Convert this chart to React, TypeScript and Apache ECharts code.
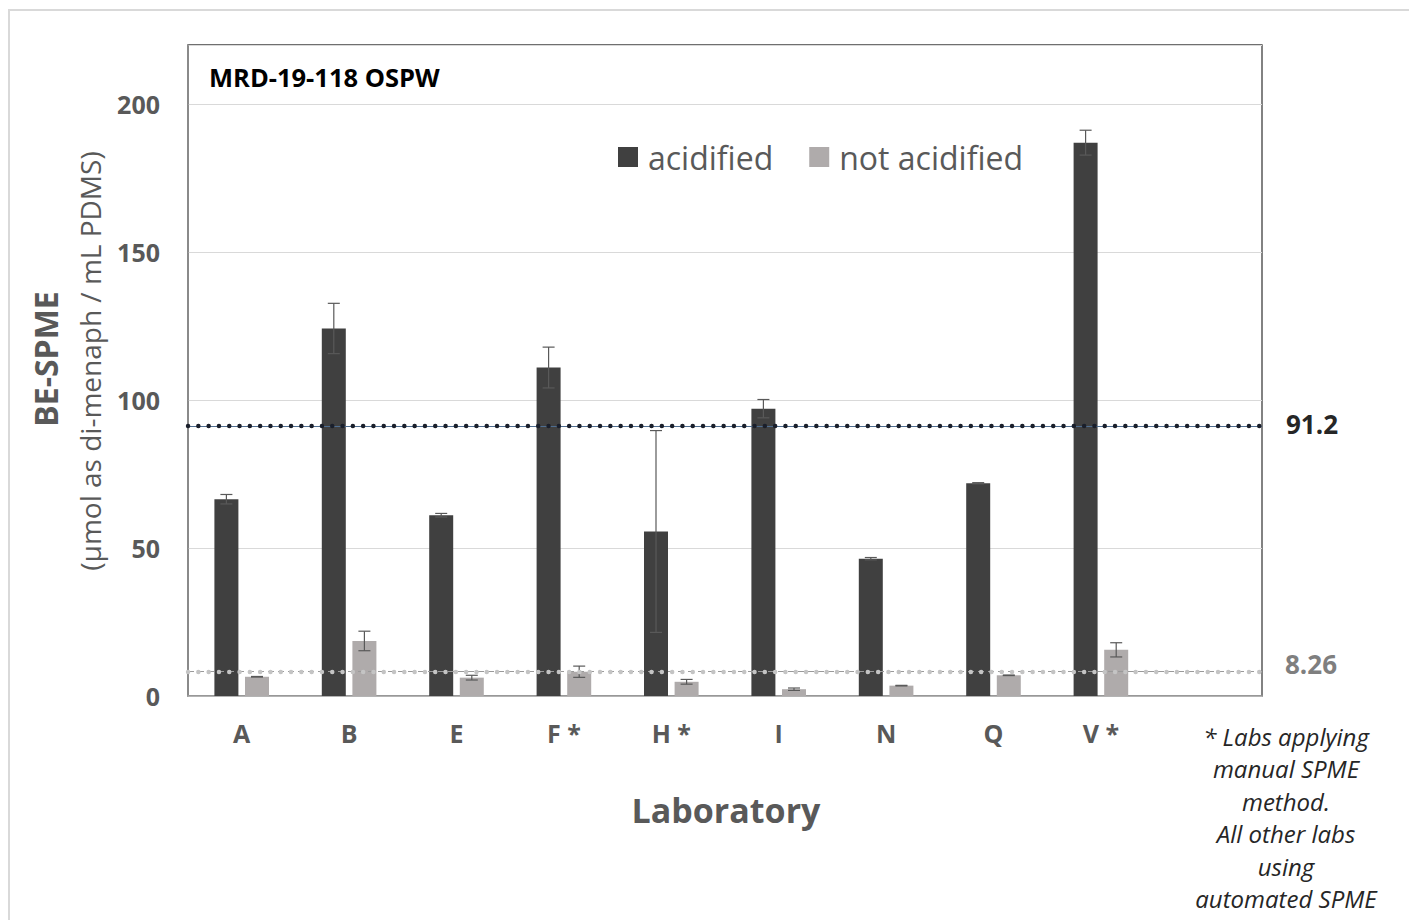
import React, { useEffect, useRef } from "react";
import * as echarts from "echarts";

const categories = ["A", "B", "E", "F *", "H *", "I", "N", "Q", "V *", ""];
const acidified = [66.5, 124.2, 61.1, 111.0, 55.6, 97.1, 46.4, 71.9, 187.0];
const acidifiedErr = [1.6, 8.5, 0.6, 6.9, 34.1, 3.1, 0.4, 0.2, 4.2];
const notAcidified = [6.5, 18.6, 6.2, 8.2, 4.8, 2.3, 3.5, 7.0, 15.6];
const notAcidifiedErr = [0.1, 3.3, 0.8, 1.9, 0.8, 0.4, 0.1, 0.1, 2.4];
const refHigh = 91.2;
const refLow = 8.26;
const noteLines = ["* Labs applying", "manual SPME", "method.", "All other labs", "using", "automated SPME"];

const FONT = "'Open Sans', 'DejaVu Sans', sans-serif";
const DARK = "#404040";
const LIGHT = "#afabab";
const BAR_W = 24;
const BAR_GAP_PX = 6.6;
const OFFSET = (BAR_W + BAR_GAP_PX) / 2;

function errRender(offset: number) {
  return (params: any, api: any) => {
    const i = api.value(0);
    const v = api.value(1);
    const e = api.value(2);
    const hi = api.coord([i, v + e]);
    const lo = api.coord([i, v - e]);
    const x = hi[0] + offset;
    const cap = 6;
    const style = { stroke: "#595959", lineWidth: 1.2 };
    return {
      type: "group",
      children: [
        { type: "line", shape: { x1: x, y1: hi[1], x2: x, y2: lo[1] }, style },
        { type: "line", shape: { x1: x - cap, y1: hi[1], x2: x + cap, y2: hi[1] }, style },
        { type: "line", shape: { x1: x - cap, y1: lo[1], x2: x + cap, y2: lo[1] }, style },
      ],
    };
  };
}

export default function App() {
  const ref = useRef<HTMLDivElement>(null);
  useEffect(() => {
    if (!ref.current) return;
    const chart = echarts.init(ref.current, null, { renderer: "svg" });
    chart.setOption({
      animation: false,
      backgroundColor: "#ffffff",
      grid: {
        left: 188,
        right: 147,
        top: 45,
        bottom: 224,
        show: true,
        borderColor: "#404040",
        borderWidth: 1.3,
        containLabel: false,
      },
      legend: {
        data: ["acidified", "not acidified"],
        left: 618,
        top: 141,
        padding: 0,
        icon: "rect",
        itemWidth: 20,
        itemHeight: 20,
        itemGap: 36,
        textStyle: {
          fontFamily: FONT,
          fontSize: 32,
          color: "#595959",
          lineHeight: 32,
          padding: [0, 0, 0, 5],
        },
      },
      xAxis: {
        type: "category",
        data: categories,
        axisLine: { show: true, lineStyle: { color: "#a6a6a6", width: 1.5 } },
        axisTick: { show: false },
        axisLabel: {
          fontFamily: FONT,
          fontSize: 25,
          fontWeight: "bold",
          color: "#595959",
          margin: 22,
          lineHeight: 30,
          interval: 0,
        },
      },
      yAxis: {
        type: "value",
        min: 0,
        max: 220,
        interval: 50,
        axisLine: { show: true, lineStyle: { color: "#8c8c8c", width: 1.5 } },
        axisTick: { show: false },
        splitLine: { show: true, lineStyle: { color: "#d9d9d9", width: 1 } },
        axisLabel: {
          fontFamily: FONT,
          fontSize: 25,
          fontWeight: "bold",
          color: "#595959",
          margin: 28,
          showMaxLabel: false,
          formatter: (v: number) => (v > 200 ? "" : String(v)),
        },
      },
      series: [
        {
          name: "acidified",
          type: "bar",
          data: acidified,
          barWidth: BAR_W,
          barGap: (BAR_GAP_PX / BAR_W) * 100 + "%",
          itemStyle: { color: DARK },
          z: 2,
        },
        {
          name: "not acidified",
          type: "bar",
          data: notAcidified,
          barWidth: BAR_W,
          itemStyle: { color: LIGHT },
          z: 2,
        },
        {
          name: "acidErr",
          type: "custom",
          data: acidified.map((v, i) => [i, v, acidifiedErr[i]]),
          encode: { x: 0, y: 1 },
          renderItem: errRender(-OFFSET),
          z: 3,
          silent: true,
        },
        {
          name: "notAcidErr",
          type: "custom",
          data: notAcidified.map((v, i) => [i, v, notAcidifiedErr[i]]),
          encode: { x: 0, y: 1 },
          renderItem: errRender(OFFSET),
          z: 3,
          silent: true,
        },
        {
          name: "ref",
          type: "line",
          data: [],
          z: 5,
          markLine: {
            silent: true,
            symbol: ["none", "none"],
            animation: false,
            label: { show: false },
            data: [
              { yAxis: refHigh, lineStyle: { color: "#4f6d8f", width: 1.2, type: "solid" } },
              { yAxis: refHigh, lineStyle: { color: "#1a1f2b", width: 4.4, type: [0.1, 10.2], cap: "round" } },
              { yAxis: refLow, lineStyle: { color: "#9a9a9a", width: 1.2, type: [6, 4] } },
              { yAxis: refLow, lineStyle: { color: "#c4c4c4", width: 4.4, type: [0.1, 10.2], cap: "round" } },
            ],
          },
        },
      ],
      graphic: [
        { id: "bt", type: "line", shape: { x1: 9, y1: 10, x2: 1409, y2: 10 }, style: { stroke: "#d9d9d9", lineWidth: 2 }, silent: true },
        { id: "bl", type: "line", shape: { x1: 9, y1: 9, x2: 9, y2: 920 }, style: { stroke: "#d9d9d9", lineWidth: 2 }, silent: true },
        {
          id: "title",
          type: "text",
          x: 209,
          y: 77,
          style: {
            text: "MRD-19-118 OSPW",
            font: `bold 25.5px ${FONT}`,
            fill: "#000000",
            align: "left",
            verticalAlign: "middle",
          },
        },
        {
          id: "yname1",
          type: "text",
          x: 45,
          y: 359,
          rotation: Math.PI / 2,
          style: {
            text: "BE-SPME",
            font: `bold 32px ${FONT}`,
            fill: "#595959",
            align: "center",
            verticalAlign: "middle",
          },
        },
        {
          id: "yname2",
          type: "text",
          x: 90,
          y: 361,
          rotation: Math.PI / 2,
          style: {
            text: "(µmol as di-menaph / mL PDMS)",
            font: `28px ${FONT}`,
            fill: "#595959",
            align: "center",
            verticalAlign: "middle",
          },
        },
        {
          id: "xname",
          type: "text",
          x: 726,
          y: 810,
          style: {
            text: "Laboratory",
            font: `bold 34px ${FONT}`,
            fill: "#595959",
            align: "center",
            verticalAlign: "middle",
          },
        },
        {
          id: "note",
          type: "text",
          x: 1286,
          y: 720,
          style: {
            text: noteLines.join("\n"),
            font: `italic 24px ${FONT}`,
            lineHeight: 32.5,
            fill: "#262626",
            align: "center",
            verticalAlign: "top",
          },
        },
      ],
    });
    const yHigh = chart.convertToPixel({ yAxisIndex: 0 }, refHigh) as number;
    const yLow = chart.convertToPixel({ yAxisIndex: 0 }, refLow) as number;
    chart.setOption({
      graphic: [
        {
          id: "refHighLabel",
          type: "text",
          x: 1286,
          y: yHigh - 2,
          style: {
            text: String(refHigh),
            font: `bold 26px ${FONT}`,
            fill: "#262626",
            align: "left",
            verticalAlign: "middle",
          },
        },
        {
          id: "refLowLabel",
          type: "text",
          x: 1285,
          y: yLow - 8,
          style: {
            text: String(refLow),
            font: `bold 26px ${FONT}`,
            fill: "#7f7f7f",
            align: "left",
            verticalAlign: "middle",
          },
        },
      ],
    });
    return () => chart.dispose();
  }, []);
  return (
    <div style={{ position: "fixed", left: 0, top: 0, width: 1409, height: 920, background: "#fff" }}>
      <div ref={ref} style={{ width: 1409, height: 920 }} />
    </div>
  );
}
